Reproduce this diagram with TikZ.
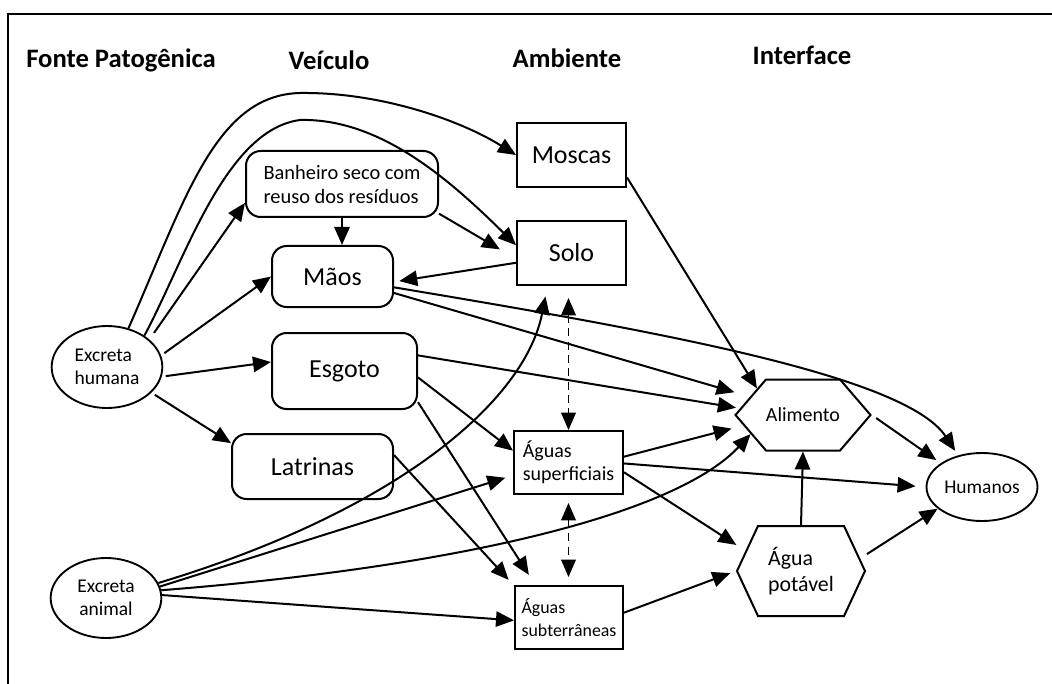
\documentclass[tikz,border=0pt]{standalone}
\usepackage{fontspec}
\setmainfont{Carlito}
\usetikzlibrary{arrows.meta,shapes.geometric,shapes.symbols}
\begin{document}
\begin{tikzpicture}[x=0.75pt,y=-0.75pt,
  line width=1.4pt,
  arr/.style={-{Triangle[length=13.5pt,width=11.5pt]}, line width=1.5pt},
  darr/.style={{Triangle[length=13pt,width=11pt]}-{Triangle[length=13pt,width=11pt]}, dash pattern=on 6pt off 4pt, line width=1.2pt},
  hdr/.style={font=\fontsize{20}{24}\selectfont\bfseries, inner sep=0},
  big/.style={font=\fontsize{19.5}{23}\selectfont},
  rbox/.style={draw, rounded corners=11pt, inner sep=0, line width=1.5pt},
  sbox/.style={draw, rectangle, inner sep=0, line width=1.5pt},
  ell/.style={draw, ellipse, inner sep=0, line width=1.4pt},
  hexa/.style={draw, signal, signal to=west and east, inner sep=0, line width=1.5pt},
]
\useasboundingbox (0,0) rectangle (1052,684);
% frame
\draw[line width=2.2pt] (8,684) -- (8,14) -- (1052,14);

% headers
\node[hdr] (h1) at (121,60) {Fonte Patogênica};
\node[hdr] (h2) at (329,60) {Veículo};
\node[hdr] (h3) at (567,58) {Ambiente};
\node[hdr] (h4) at (802,55) {Interface};

% nodes
\node[ell, minimum width=83pt, minimum height=61.5pt, align=left, font=\fontsize{14.6}{17.3}\selectfont] (eh) at (107,367) {Excreta\\humana};
\node[ell, minimum width=83pt, minimum height=60pt, align=center, font=\fontsize{14.6}{17.3}\selectfont] (ea) at (106,598) {Excreta\\animal};
\node[rbox, minimum width=144pt, minimum height=49.5pt, align=left, font=\fontsize{15.3}{18}\selectfont] (ban) at (342,184) {Banheiro seco com\\reuso dos resíduos};
\node[rbox, big, minimum width=90.75pt, minimum height=45.75pt] (maos) at (332.5,276.5) {Mãos};
\node[rbox, big, minimum width=108.75pt, minimum height=57pt] (esg) at (344.5,371) {Esgoto};
\node[rbox, big, minimum width=120.75pt, minimum height=48.75pt] (lat) at (312.5,466.5) {Latrinas};
\node[sbox, big, minimum width=81.75pt, minimum height=48pt] (mos) at (571.5,155) {Moscas};
\node[sbox, big, minimum width=81.75pt, minimum height=48pt] (solo) at (571.5,253) {Solo};
\node[sbox, minimum width=81.75pt, minimum height=47.25pt, align=left, font=\fontsize{15}{17.3}\selectfont] (sup) at (568.5,462.5) {Águas\\superficiais};
\node[sbox, minimum width=81pt, minimum height=47.25pt, align=left, font=\fontsize{13.4}{17}\selectfont] (sub) at (569,617.5) {Águas\\subterrâneas};
\node[hexa, signal pointer angle=98.7, minimum width=96.75pt, minimum height=53.25pt, font=\fontsize{15}{18}\selectfont] (alim) at (803,415) {Alimento};
\node[hexa, signal pointer angle=130, minimum width=96pt, minimum height=67.5pt, align=left, font=\fontsize{16.4}{19.5}\selectfont] (agua) at (801,571) {Água\\potável};
\node[ell, minimum width=83.25pt, minimum height=51pt, font=\fontsize{14.6}{17}\selectfont] (hum) at (982,487) {Humanos};

% edges from Excreta humana
\draw[arr] (eh.61) .. controls (185,200) and (215,95) .. (300,93) .. controls (380,92) and (460,120) .. (mos.west);
\draw[arr] (eh.40) .. controls (185,260) and (225,130) .. (300,120) .. controls (380,118) and (450,180) .. (solo.172);
\draw[arr, shorten <=6pt] (eh.33) -- (ban.191);
\draw[arr, shorten <=3pt] (eh.12) -- (maos.west);
\draw[arr, shorten <=3pt] (eh.-10) -- (esg.173);
\draw[arr, shorten <=3pt] (eh.-30) -- (lat.164);

% vehicles
\draw[arr] (ban.south) -- (ban.south |- maos.north);
\draw[arr, shorten >=14pt] (ban.-17) -- (solo.186);
\draw[arr, shorten >=4pt] (solo.190) -- (maos.-5);
\draw[arr] (mos.-22) -- (alim.150);
\draw[arr, shorten >=4pt] (maos.-10) .. controls (650,330) and (905,375) .. (hum.127);
\draw[arr, shorten >=12pt] (maos.-15) -- (alim.161);
\draw[arr, shorten >=3pt] (esg.12) -- (alim.174);
\draw[arr] (esg.-5) -- (sup.168);
\draw[arr, shorten >=9pt] (esg.-23) -- (sub.136);
\draw[arr, shorten >=6pt] (lat.8) -- (sub.150);

% Excreta animal
\draw[arr, shorten >=8pt] (ea.16) .. controls (400,510) and (525,400) .. (solo.234);
\draw[arr, shorten >=6pt] (ea.12) -- (sup.193);
\draw[arr] (ea.8) .. controls (480,565) and (680,510) .. (alim.200);
\draw[arr] (ea.3) -- (sub.183);

% waters
\draw[arr, shorten >=9pt] (sup.6) -- (alim.190);
\draw[arr, shorten >=7.5pt] (sup.-1) -- (hum.west);
\draw[arr, shorten >=8pt] (sup.-10) -- (agua.160);
\draw[arr, shorten >=4.5pt] (sub.5) -- (agua.west);
\draw[darr, shorten <=9pt] (solo.south -| sup.north) -- (sup.north);
\draw[darr, shorten <=6pt, shorten >=6pt] (sup.south) -- (sup.south |- sub.north);

% interface
\draw[arr] (agua.north) -- (alim.south);
\draw[arr, shorten <=6pt] (agua.12) -- (hum.206);
\draw[arr, shorten <=4pt, shorten >=4pt] (alim.east) -- (hum.150);
\end{tikzpicture}
\end{document}
